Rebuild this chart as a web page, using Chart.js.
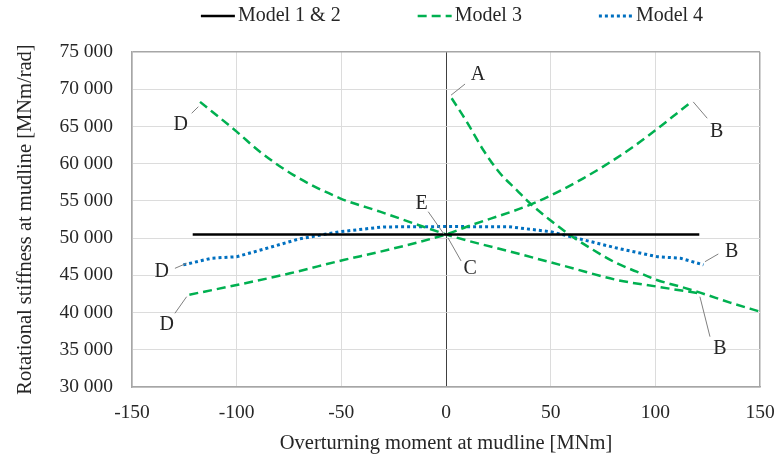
<!DOCTYPE html>
<html>
<head>
<meta charset="utf-8">
<script src="https://cdn.jsdelivr.net/npm/chart.js@4"></script>
<style>
  html, body { margin: 0; padding: 0; background: #fff; }
  canvas { display: block; }
</style>
</head>
<body>
<canvas id="stiffness-chart" width="776" height="459"></canvas>
<script>
// tick values
const xTicks = [-150, -100, -50, 0, 50, 100, 150];
const yTicks = [30000, 35000, 40000, 45000, 50000, 55000, 60000, 65000, 70000, 75000];

// Model 1 & 2 (constant stiffness)
const model12X = [-121, 121];
const model12Y = [50500, 50500];

// Model 3, branch D (top) -> C -> B (bottom)
const model3aX = [-117.5, -100, -88.9, -73, -50.6, -31.5, -10.8, 0, 3.5, 33.8, 57.7, 81.6, 100.7, 120.5];
const model3aY = [68300, 64300, 61600, 58500, 55350, 53550, 51530, 50500, 50190, 47960, 46170, 44380, 43490, 42600];

// Model 3, branch D (bottom) -> C -> B (top)
const model3bX = [-122.6, -100, -74.5, -49, -31.5, 0, 9.9, 41.7, 65.6, 89.5, 117.4];
const model3bY = [42400, 43700, 45270, 47060, 48170, 50500, 51530, 54670, 58030, 62280, 68320];

// Model 3, branch A -> B
const model3cX = [2.7, 9.9, 17.8, 25.8, 33.8, 40.1, 49.7, 59.2, 70.4, 81.6, 91.1, 100.7, 111.8, 121.4, 135.7, 150];
const model3cY = [68780, 65640, 61840, 58710, 56460, 54680, 52430, 50420, 48400, 46620, 45490, 44380, 43490, 42670, 41340, 40120];

// Model 4
const model4X = [-125.5, -112, -100, -86, -70, -51, -30, -1, 30, 50, 66, 82, 101, 112, 123];
const model4Y = [46400, 47300, 47500, 48600, 49900, 50850, 51500, 51550, 51530, 50860, 49750, 48630, 47500, 47300, 46400];

// point labels: letter, text position, leader line start/end
const markLetters = ['A', 'B', 'B', 'B', 'C', 'D', 'D', 'D', 'E'];
const markTextX = [15.3, 129.3, 136.5, 130.9, 11.5, -126.7, -135.8, -133.4, -11.6];
const markTextY = [71900, 64300, 48170, 35200, 45940, 65190, 45490, 38330, 54680];
const leaderFromX = [2.4, 118.1, 123.7, 121.3, 1, -118.3, -123.9, -123.9, -1];
const leaderFromY = [69200, 68300, 46830, 42130, 50010, 67650, 46620, 42130, 50550];
const leaderToX = [9.1, 124.8, 130.1, 126.1, 7.2, -121.5, -129.5, -129.5, -8.5];
const leaderToY = [70700, 66100, 47870, 36760, 46930, 66770, 45940, 39900, 53550];

const toPoints = (xs, ys) => xs.map((x, i) => ({ x: x, y: ys[i] }));

const serif = '"Liberation Serif", "Times New Roman", serif';
const GREEN = '#00B050';
const BLUE = '#0070C0';

const formatThousands = v => String(v).replace(/\B(?=(\d{3})+(?!\d))/g, ' ');

// legend drawn as line sample + text above the plot
const lineLegend = {
    id: 'lineLegend',
    afterDraw(chart) {
        const c = chart.ctx;
        const items = chart.data.datasets.filter(ds => ds.inLegend);
        const lineLen = 34;
        const gap = 3;
        const spacing = 77;
        c.save();
        c.font = '20px ' + serif;
        const widths = items.map(ds => lineLen + gap + c.measureText(ds.label).width);
        const total = widths.reduce((a, b) => a + b, 0) + spacing * (items.length - 1);
        const area = chart.chartArea;
        let x = (area.left + area.right) / 2 + 6 - total / 2;
        const y = 16;
        items.forEach((ds, i) => {
            c.beginPath();
            c.strokeStyle = ds.borderColor;
            c.lineWidth = ds.borderWidth;
            c.setLineDash(ds.borderDash || []);
            c.moveTo(x, y);
            c.lineTo(x + lineLen, y);
            c.stroke();
            c.setLineDash([]);
            c.fillStyle = '#262626';
            c.textBaseline = 'middle';
            c.textAlign = 'left';
            c.fillText(ds.label, x + lineLen + gap, y);
            x += widths[i] + spacing;
        });
        c.restore();
    }
};

// letters A-E with grey leader lines
const pointMarks = {
    id: 'pointMarks',
    afterDatasetsDraw(chart) {
        const c = chart.ctx;
        const xs = chart.scales.x;
        const ys = chart.scales.y;
        c.save();
        c.strokeStyle = '#7f7f7f';
        c.lineWidth = 1;
        markLetters.forEach((letter, i) => {
            c.beginPath();
            c.moveTo(xs.getPixelForValue(leaderFromX[i]), ys.getPixelForValue(leaderFromY[i]));
            c.lineTo(xs.getPixelForValue(leaderToX[i]), ys.getPixelForValue(leaderToY[i]));
            c.stroke();
        });
        c.fillStyle = '#262626';
        c.font = '20px ' + serif;
        c.textAlign = 'center';
        c.textBaseline = 'middle';
        markLetters.forEach((letter, i) => {
            c.fillText(letter, xs.getPixelForValue(markTextX[i]), ys.getPixelForValue(markTextY[i]));
        });
        c.restore();
    }
};

const dashedGreen = {
    borderColor: GREEN,
    borderWidth: 2.5,
    borderDash: [9, 5],
    showLine: true,
    pointRadius: 0,
    cubicInterpolationMode: 'monotone'
};

new Chart(document.getElementById('stiffness-chart'), {
    type: 'scatter',
    data: {
        datasets: [
            {
                label: 'Model 1 & 2',
                data: toPoints(model12X, model12Y),
                borderColor: '#000000',
                borderWidth: 2.5,
                showLine: true,
                pointRadius: 0,
                inLegend: true
            },
            Object.assign({ label: 'Model 3', data: toPoints(model3aX, model3aY), inLegend: true }, dashedGreen),
            Object.assign({ label: 'Model 3', data: toPoints(model3bX, model3bY), inLegend: false }, dashedGreen),
            Object.assign({ label: 'Model 3', data: toPoints(model3cX, model3cY), inLegend: false }, dashedGreen),
            {
                label: 'Model 4',
                data: toPoints(model4X, model4Y),
                borderColor: BLUE,
                borderWidth: 3,
                borderDash: [3, 3],
                showLine: true,
                pointRadius: 0,
                tension: 0,
                inLegend: true
            }
        ]
    },
    options: {
        responsive: false,
        animation: false,
        layout: { padding: { left: 8, right: 16, top: 52, bottom: 0 } },
        plugins: {
            legend: { display: false },
            tooltip: { enabled: false }
        },
        scales: {
            x: {
                type: 'linear',
                min: -150,
                max: 150,
                afterBuildTicks: scale => { scale.ticks = xTicks.map(v => ({ value: v })); },
                afterFit: scale => {
                    scale.height = 72;
                    scale.paddingLeft = 0;
                    scale.paddingRight = 0;
                },
                ticks: {
                    padding: 14,
                    color: '#262626',
                    font: { family: serif, size: 19.5 },
                    callback: v => String(v)
                },
                grid: {
                    drawTicks: false,
                    color: c => c.tick.value === 0 ? '#404040' : (c.tick.value === 150 ? '#a6a6a6' : '#dcdcdc'),
                    lineWidth: c => c.tick.value === 150 ? 1.5 : 1
                },
                border: { color: '#a6a6a6', width: 1.5 },
                title: {
                    display: true,
                    text: 'Overturning moment at mudline [MNm]',
                    color: '#262626',
                    font: { family: serif, size: 20.5 },
                    padding: { top: 0, bottom: 3 }
                }
            },
            y: {
                type: 'linear',
                min: 30000,
                max: 75000,
                afterBuildTicks: scale => { scale.ticks = yTicks.map(v => ({ value: v })); },
                afterFit: scale => { scale.width = 124; },
                ticks: {
                    padding: 19,
                    color: '#262626',
                    font: { family: serif, size: 19.5 },
                    callback: v => formatThousands(v)
                },
                grid: {
                    drawTicks: false,
                    color: c => c.tick.value === 75000 ? '#a6a6a6' : '#dcdcdc',
                    lineWidth: c => c.tick.value === 75000 ? 1.5 : 1
                },
                border: { color: '#a6a6a6', width: 1.5 },
                title: {
                    display: true,
                    text: 'Rotational stiffness at mudline [MNm/rad]',
                    color: '#262626',
                    font: { family: serif, size: 20.5 },
                    padding: { top: 5, bottom: 0 }
                }
            }
        }
    },
    plugins: [lineLegend, pointMarks]
});
</script>
</body>
</html>
